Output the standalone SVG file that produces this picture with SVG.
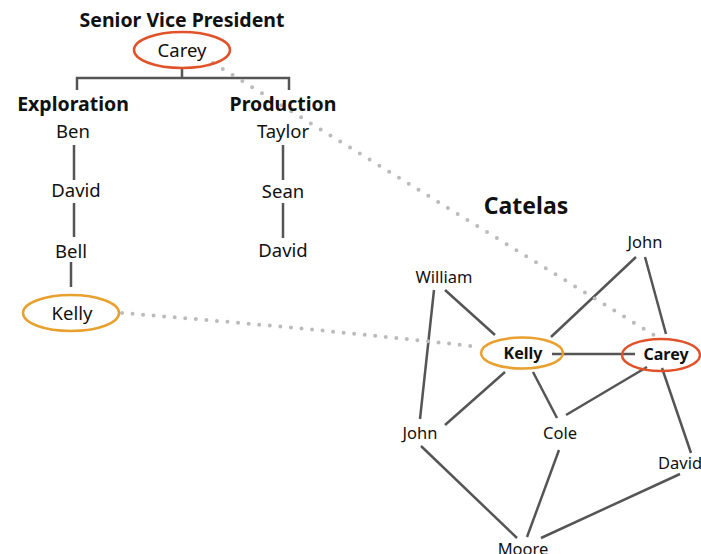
<svg xmlns="http://www.w3.org/2000/svg" width="701" height="554" viewBox="0 0 701 554">
<style>
text{font-family:"Noto Sans","Open Sans",sans-serif;fill:#111;text-anchor:middle}
.h{font-weight:bold;font-size:19.5px}
.n{font-size:18.5px}
.s{font-size:16.5px}
.b{font-weight:bold;font-size:16px}
.e{stroke:#555;stroke-width:2.5;fill:none}
.dot{stroke:#bbb;stroke-width:4;stroke-linecap:round;fill:none}
.red{fill:none;stroke:#e0532a;stroke-width:2.5}
.org{fill:none;stroke:#e8a02e;stroke-width:2.5}
</style>
<rect width="701" height="554" fill="#fff"/>
<g id="connectors">
<path class="e" d="M182,68V78M77,90V78H289V90"/>
<path class="e" d="M74,145V180M74,203V237M71,262V287"/>
<path class="e" d="M283,145V180M283,203V238"/>
<path class="e" d="M552,354H635M636,257L551,337M645,257L666,334M445,290L495,335M434,290L420,419M505,372L445,425M533,372L557,418M647,367L566,415M662,368L691,453M421,446L517,538M559,450L527,537M680,474L541,538"/>
<path class="dot" stroke-dasharray="0 11.5" d="M213,63L662,340"/>
<path class="dot" stroke-dasharray="0 10.6" d="M122,313Q300,327 480,347"/>
</g>
<g id="title-svp"><text class="h" x="182" y="27">Senior Vice President</text></g>
<g id="carey-top"><ellipse class="red" cx="182" cy="50" rx="48" ry="18"/><text class="n" x="182" y="57">Carey</text></g>
<g id="exploration"><text class="h" x="73" y="111">Exploration</text></g>
<g id="production"><text class="h" x="283" y="111">Production</text></g>
<g id="ben"><text class="n" x="73" y="138">Ben</text></g>
<g id="david-l"><text class="n" x="76" y="197">David</text></g>
<g id="bell"><text class="n" x="71" y="258">Bell</text></g>
<g id="kelly-l"><ellipse class="org" cx="71" cy="313" rx="48" ry="18"/><text class="n" x="72" y="320">Kelly</text></g>
<g id="taylor"><text class="n" x="283" y="138">Taylor</text></g>
<g id="sean"><text class="n" x="283" y="198">Sean</text></g>
<g id="david-r"><text class="n" x="283" y="257">David</text></g>
<g id="catelas"><text x="526" y="214" style="font-weight:bold;font-size:23px">Catelas</text></g>
<g id="john-t"><text class="s" x="645" y="248">John</text></g>
<g id="william"><text class="s" x="444" y="283">William</text></g>
<g id="kelly-n"><ellipse class="org" cx="522" cy="353" rx="41" ry="15.5"/><text class="b" x="523" y="359">Kelly</text></g>
<g id="carey-n"><ellipse class="red" cx="661" cy="355" rx="39" ry="16"/><text class="b" x="666" y="360">Carey</text></g>
<g id="john-b"><text class="s" x="420" y="439">John</text></g>
<g id="cole"><text class="s" x="560" y="439">Cole</text></g>
<g id="david-n"><text class="s" x="658" y="469" style="text-anchor:start">David</text></g>
<g id="moore"><text class="s" x="523" y="555">Moore</text></g>
</svg>
